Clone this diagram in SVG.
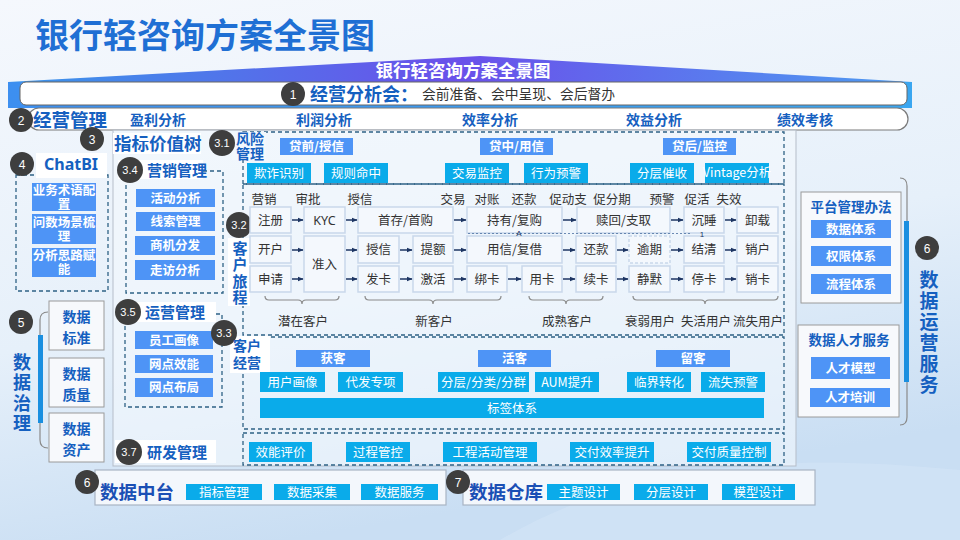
<svg xmlns="http://www.w3.org/2000/svg" width="960" height="540" viewBox="0 0 960 540" font-family="'Noto Sans CJK SC','Noto Sans',sans-serif">
<defs>
<linearGradient id="bg" x1="0" y1="0" x2="0.3" y2="1">
<stop offset="0" stop-color="#f5f8fd"/><stop offset="0.6" stop-color="#e6f0fa"/><stop offset="1" stop-color="#c9def3"/>
</linearGradient>
<linearGradient id="ban" x1="0" y1="0" x2="1" y2="0">
<stop offset="0" stop-color="#3a96ea"/><stop offset="0.5" stop-color="#6a50ea"/><stop offset="1" stop-color="#4d9cf1"/>
</linearGradient>
<linearGradient id="bar" x1="0" y1="0" x2="1" y2="0">
<stop offset="0" stop-color="#3d8ff0"/><stop offset="1" stop-color="#3aa6f0"/>
</linearGradient>
<marker id="ah" viewBox="0 0 6 6" refX="5.5" refY="3" markerWidth="6" markerHeight="6" markerUnits="userSpaceOnUse" orient="auto">
<path d="M0,0.5 L6,3 L0,5.5z" fill="#1d3563"/>
</marker>
<style>
.num{fill:#3e3e3e}
.nt{fill:#fff;font-size:12px;text-anchor:middle;font-family:'Liberation Sans','Noto Sans',sans-serif}
.nts{fill:#fff;font-size:11px;text-anchor:middle;font-family:'Liberation Sans','Noto Sans',sans-serif}
.hd{fill:#1560c0;font-weight:bold}
.vt{writing-mode:vertical-rl}
.blue{fill:#4e94f6}
.cyan{fill:#0aabea}
.wb{fill:#fff;font-weight:bold;font-size:12.5px;text-anchor:middle}
.wn{fill:#fff;font-size:12.5px;text-anchor:middle}
.cell{fill:#f4f8fd;stroke:#c9d7ea;stroke-width:1.5}
.ct{fill:#333;font-size:12.5px;text-anchor:middle}
.dash{fill:none;stroke:#2e6285;stroke-width:1.3;stroke-dasharray:4 3}
.lab{fill:#fff}
.gbox{fill:#f7f9fc;stroke:#9a9a9a;stroke-width:1}
.brk{fill:none;stroke:#8a8a8a;stroke-width:1.2}
.con{stroke:#1d3563;stroke-width:1.5;marker-end:url(#ah)}
.bt{fill:#1560c0;font-weight:bold;font-size:14px;text-anchor:middle}
</style>
</defs>
<rect width="960" height="540" fill="url(#bg)"/>
<path d="M500,540 C620,470 760,450 960,470 L960,540z" fill="#d3e5f6" opacity="0.6"/>

<!-- title -->
<text x="35" y="48" font-size="34" font-weight="bold" fill="#1f6fd4">银行轻咨询方案全景图</text>

<!-- banner -->
<g id="banner">
<polygon points="8,82 480,56 912,82" fill="url(#ban)"/>
<rect x="8" y="82" width="904" height="26" fill="url(#bar)"/>
<rect x="20" y="82" width="887" height="23" rx="6" fill="#fff" stroke="#666" stroke-width="1"/>
<text x="463" y="77" font-size="17.5" font-weight="bold" fill="#fff" text-anchor="middle">银行轻咨询方案全景图</text>
</g>

<g id="n1">
<circle class="num" cx="293" cy="94" r="12"/><text class="nt" x="293" y="98.5">1</text>
<text x="310" y="100.5" font-size="18" class="hd">经营分析会：</text>
<text x="422" y="99" font-size="13.8" fill="#333">会前准备、会中呈现、会后督办</text>
</g>

<g id="n2">
<rect x="28" y="108" width="880" height="22" rx="11" fill="#fff" stroke="#7a7a7a" stroke-width="1.2"/>
<circle class="num" cx="21" cy="120" r="12"/><text class="nt" x="21" y="124.5">2</text>
<text x="33" y="127" font-size="18.5" class="hd">经营管理</text>
<text x="158" y="125" class="bt">盈利分析</text>
<text x="324" y="125" class="bt">利润分析</text>
<text x="490" y="125" class="bt">效率分析</text>
<text x="654" y="125" class="bt">效益分析</text>
<text x="805" y="125" class="bt">绩效考核</text>
</g>

<!-- big frame 3 -->
<g id="n3">
<rect x="113" y="130" width="683" height="336" fill="#f3f8fd" fill-opacity="0.6" stroke="#b5bdc9" stroke-width="1"/>
<rect class="lab" x="113" y="133" width="88" height="21"/>
<circle class="num" cx="92" cy="139" r="12"/><text class="nt" x="92" y="143.5">3</text>
<text x="114" y="150" font-size="17.5" class="hd">指标价值树</text>
</g>

<!-- ChatBI -->
<g id="n4">
<rect class="dash" x="16" y="175" width="92" height="116"/>
<rect class="lab" x="36" y="153" width="71" height="25"/>
<circle class="num" cx="22" cy="164" r="12"/><text class="nt" x="22" y="168.5">4</text>
<text x="71" y="170" font-size="16" class="hd" text-anchor="middle" font-family="'Noto Sans','Liberation Sans',sans-serif">ChatBI</text>
<rect class="blue" x="32" y="183" width="64" height="28"/>
<text class="wb" font-size="11.8" x="64" y="195">业务术语配<tspan x="64" dy="13.5">置</tspan></text>
<rect class="blue" x="32" y="214" width="64" height="30"/>
<text class="wb" font-size="11.8" x="64" y="226.5">问数场景梳<tspan x="64" dy="14">理</tspan></text>
<rect class="blue" x="32" y="248" width="64" height="29"/>
<text class="wb" font-size="11.8" x="64" y="260">分析思路赋<tspan x="64" dy="14">能</tspan></text>
</g>

<!-- 3.4 -->
<g id="n3-4">
<rect class="dash" x="126" y="171" width="97" height="122"/>
<rect class="lab" x="118" y="160" width="85" height="19"/>
<circle class="num" cx="130" cy="170" r="13"/><text class="nts" x="130" y="174">3.4</text>
<text x="147" y="175.5" font-size="15" class="hd">营销管理</text>
<rect class="blue" x="136" y="189" width="79" height="18"/><text class="wb" x="175.5" y="202.5">活动分析</text>
<rect class="blue" x="136" y="212" width="79" height="19"/><text class="wb" x="175.5" y="226">线索管理</text>
<rect class="blue" x="135" y="236" width="80" height="19"/><text class="wb" x="175" y="250">商机分发</text>
<rect class="blue" x="135" y="260" width="80" height="20"/><text class="wb" x="175" y="274.5">走访分析</text>
</g>

<!-- 3.5 -->
<g id="n3-5">
<rect class="dash" x="125" y="314" width="97" height="93"/>
<rect class="lab" x="118" y="302" width="98" height="20"/>
<circle class="num" cx="128" cy="312" r="13"/><text class="nts" x="128" y="316">3.5</text>
<text x="145" y="317.5" font-size="15" class="hd">运营管理</text>
<rect class="blue" x="135" y="331" width="78" height="18"/><text class="wb" x="174" y="344.5">员工画像</text>
<rect class="blue" x="135" y="355" width="78" height="18"/><text class="wb" x="174" y="368.5">网点效能</text>
<rect class="blue" x="135" y="378" width="78" height="19"/><text class="wb" x="174" y="392">网点布局</text>
</g>

<!-- 3.7 -->
<g id="n3-7">
<rect class="lab" x="115" y="440" width="101" height="23"/>
<circle class="num" cx="129" cy="452" r="13"/><text class="nts" x="129" y="456">3.7</text>
<text x="147" y="457.5" font-size="15" class="hd">研发管理</text>
</g>

<!-- 5 数据治理 -->
<g id="n5">
<path class="brk" d="M48,312 Q40,312 40,320 V440 Q40,448 48,448"/>
<rect x="38" y="335" width="5" height="88" fill="#1a8fe0"/>
<circle class="num" cx="21" cy="322" r="12"/><text class="nt" x="21" y="326.5">5</text>
<text class="hd vt" font-size="18" letter-spacing="2.5" x="22" y="353">数据治理</text>
<rect class="gbox" x="49" y="301" width="55" height="49"/>
<text class="bt" x="76.5" y="322">数据<tspan x="76.5" dy="21">标准</tspan></text>
<rect class="gbox" x="49" y="358" width="55" height="49"/>
<text class="bt" x="76.5" y="379">数据<tspan x="76.5" dy="21">质量</tspan></text>
<rect class="gbox" x="49" y="413" width="55" height="49"/>
<text class="bt" x="76.5" y="434">数据<tspan x="76.5" dy="21">资产</tspan></text>
</g>

<!-- 3.1 风险管理 -->
<g id="n3-1">
<rect class="dash" x="243" y="132" width="541" height="52"/>
<rect x="232" y="132" width="34" height="28" fill="#f3f8fd"/>
<circle class="num" cx="222" cy="143" r="13"/><text class="nts" x="222" y="147">3.1</text>
<text x="236" y="144" font-size="14" class="hd">风险<tspan x="236" dy="15">管理</tspan></text>
<rect class="blue" x="280" y="138" width="73" height="17"/><text class="wb" x="316.5" y="151">贷前/授信</text>
<rect class="blue" x="480" y="138" width="73" height="17"/><text class="wb" x="516.5" y="151">贷中/用信</text>
<rect class="blue" x="663" y="138" width="73" height="17"/><text class="wb" x="699.5" y="151">贷后/监控</text>
<rect class="cyan" x="247" y="163" width="64" height="20"/><text class="wn" x="279" y="177.5">欺诈识别</text>
<rect class="cyan" x="324" y="163" width="64" height="20"/><text class="wn" x="356" y="177.5">规则命中</text>
<rect class="cyan" x="445" y="163" width="64" height="20"/><text class="wn" x="477" y="177.5">交易监控</text>
<rect class="cyan" x="524" y="163" width="64" height="20"/><text class="wn" x="556" y="177.5">行为预警</text>
<rect class="cyan" x="630" y="163" width="64" height="20"/><text class="wn" x="662" y="177.5">分层催收</text>
<rect class="cyan" x="705" y="163" width="64" height="20"/><text class="wn" font-size="10.5" x="737" y="177">Vintage分析</text>
</g>

<!-- 3.2 客户旅程 -->
<g id="n3-2">
<rect class="dash" x="243" y="184" width="541" height="151"/>
<rect class="lab" x="228" y="238" width="22" height="68"/>
<circle class="num" cx="239" cy="225" r="13"/><text class="nts" x="239" y="229">3.2</text>
<text class="hd vt" font-size="15" letter-spacing="1.5" x="240" y="240.5">客户旅程</text>
<g class="ct">
<text x="264" y="203.5">营销</text><text x="308" y="203.5">审批</text><text x="360" y="203.5">授信</text>
<text x="453" y="203.5">交易</text><text x="487" y="203.5">对账</text><text x="524" y="203.5">还款</text>
<text x="568" y="203.5">促动支</text><text x="612" y="203.5">促分期</text><text x="662" y="203.5">预警</text>
<text x="697" y="203.5">促活</text><text x="729" y="203.5">失效</text>
</g>
</g>

<g id="journey-cells">
<g id="c-zhuce"><rect class="cell" x="250" y="207" width="41" height="26"/><text class="ct" x="270.5" y="224.5">注册</text></g>
<g id="c-kyc"><rect class="cell" x="304" y="207" width="41" height="26"/><text class="ct" x="324.5" y="224.5" font-family="'Noto Sans','Liberation Sans',sans-serif">KYC</text></g>
<g id="c-shoucun"><rect class="cell" x="358" y="207" width="95" height="26"/><text class="ct" x="405.5" y="224.5">首存/首购</text></g>
<g id="c-chiyou"><rect class="cell" x="467" y="207" width="95" height="26"/><text class="ct" x="514.5" y="224.5">持有/复购</text></g>
<g id="c-shuhui"><rect class="cell" x="577" y="207" width="93" height="26"/><text class="ct" x="623.5" y="224.5">赎回/支取</text></g>
<g id="c-chenshui"><rect class="cell" x="684" y="207" width="40" height="26"/><text class="ct" x="704" y="224.5">沉睡</text></g>
<g id="c-xiezai"><rect class="cell" x="737" y="207" width="41" height="26"/><text class="ct" x="757.5" y="224.5">卸载</text></g>

<g id="c-kaihu"><rect class="cell" x="250" y="236" width="41" height="27"/><text class="ct" x="270.5" y="254">开户</text></g>
<g id="c-zhunru"><rect class="cell" x="304" y="236" width="41" height="56"/><text class="ct" x="324.5" y="268.5">准入</text></g>
<g id="c-shouxin"><rect class="cell" x="358" y="236" width="41" height="27"/><text class="ct" x="378.5" y="254">授信</text></g>
<g id="c-tie"><rect class="cell" x="413" y="236" width="40" height="27"/><text class="ct" x="433" y="254">提额</text></g>
<g id="c-yongxin"><rect class="cell" x="467" y="236" width="95" height="27"/><text class="ct" x="514.5" y="254">用信/复借</text></g>
<g id="c-huankuan"><rect class="cell" x="576" y="236" width="40" height="27"/><text class="ct" x="596" y="254">还款</text></g>
<g id="c-yuqi"><rect x="629" y="236" width="41" height="27" fill="#f4f8fd" stroke="#c9d7ea" stroke-width="1.5" stroke-dasharray="3 2"/><text class="ct" x="649.5" y="254">逾期</text></g>
<g id="c-jieqing"><rect class="cell" x="684" y="236" width="40" height="27"/><text class="ct" x="704" y="254">结清</text></g>
<g id="c-xiaohu"><rect class="cell" x="737" y="236" width="41" height="27"/><text class="ct" x="757.5" y="254">销户</text></g>

<g id="c-shenqing"><rect class="cell" x="250" y="266" width="41" height="26"/><text class="ct" x="270.5" y="283.5">申请</text></g>
<g id="c-faka"><rect class="cell" x="358" y="266" width="41" height="26"/><text class="ct" x="378.5" y="283.5">发卡</text></g>
<g id="c-jihuo"><rect class="cell" x="413" y="266" width="40" height="26"/><text class="ct" x="433" y="283.5">激活</text></g>
<g id="c-bangka"><rect class="cell" x="467" y="266" width="40" height="26"/><text class="ct" x="487" y="283.5">绑卡</text></g>
<g id="c-yongka"><rect class="cell" x="522" y="266" width="40" height="26"/><text class="ct" x="542" y="283.5">用卡</text></g>
<g id="c-xuka"><rect class="cell" x="576" y="266" width="40" height="26"/><text class="ct" x="596" y="283.5">续卡</text></g>
<g id="c-jingmo"><rect class="cell" x="629" y="266" width="41" height="26"/><text class="ct" x="649.5" y="283.5">静默</text></g>
<g id="c-tingka"><rect class="cell" x="684" y="266" width="40" height="26"/><text class="ct" x="704" y="283.5">停卡</text></g>
<g id="c-xiaoka"><rect class="cell" x="737" y="266" width="41" height="26"/><text class="ct" x="757.5" y="283.5">销卡</text></g>

<path d="M468,233.5 H690" stroke="#4a6fa0" stroke-width="0.8" stroke-dasharray="2 2" fill="none"/>
<text x="519" y="236" font-size="8" fill="#1d3563" text-anchor="middle" font-family="'Liberation Sans',sans-serif">A</text>
<text x="702" y="237" font-size="8" fill="#1d3563" text-anchor="middle" font-family="'Liberation Sans',sans-serif">1</text>

<path class="brk" d="M265,296 q0,4 4,4 H298 q4,0 4,4 q0,-4 4,-4 H335 q4,0 4,-4"/>
<path class="brk" d="M365,296 q0,4 4,4 H429 q4,0 4,4 q0,-4 4,-4 H497 q4,0 4,-4"/>
<path class="brk" d="M529,296 q0,4 4,4 H562 q4,0 4,4 q0,-4 4,-4 H599 q4,0 4,-4"/>
<path class="brk" d="M633,296 q0,4 4,4 H701 q4,0 4,4 q0,-4 4,-4 H774 q4,0 4,-4"/>
<g class="ct" font-size="12">
<text x="303" y="325.5">潜在客户</text><text x="434" y="325.5">新客户</text><text x="567" y="325.5">成熟客户</text>
<text x="650" y="325.5">衰弱用户</text><text x="706" y="325.5">失活用户</text><text x="758" y="325.5">流失用户</text>
</g>
</g>

<g id="connectors">
<line class="con" x1="292" y1="220" x2="303" y2="220"/>
<line class="con" x1="346" y1="220" x2="357" y2="220"/>
<line class="con" x1="454" y1="220" x2="466" y2="220"/>
<line class="con" x1="563" y1="220" x2="576" y2="220"/>
<line class="con" x1="671" y1="220" x2="683" y2="220"/>
<line class="con" x1="725" y1="220" x2="736" y2="220"/>
<line class="con" x1="292" y1="250" x2="303" y2="250"/>
<line class="con" x1="346" y1="250" x2="357" y2="250"/>
<line class="con" x1="400" y1="250" x2="412" y2="250"/>
<line class="con" x1="454" y1="250" x2="466" y2="250"/>
<line class="con" x1="563" y1="250" x2="575" y2="250"/>
<line class="con" x1="617" y1="250" x2="628" y2="250"/>
<line class="con" x1="671" y1="250" x2="683" y2="250"/>
<line class="con" x1="725" y1="250" x2="736" y2="250"/>
<line class="con" x1="292" y1="279" x2="303" y2="279"/>
<line class="con" x1="346" y1="279" x2="357" y2="279"/>
<line class="con" x1="400" y1="279" x2="412" y2="279"/>
<line class="con" x1="454" y1="279" x2="466" y2="279"/>
<line class="con" x1="508" y1="279" x2="521" y2="279"/>
<line class="con" x1="563" y1="279" x2="575" y2="279"/>
<line class="con" x1="617" y1="279" x2="628" y2="279"/>
<line class="con" x1="671" y1="279" x2="683" y2="279"/>
<line class="con" x1="725" y1="279" x2="736" y2="279"/>
</g>

<!-- 3.3 客户经营 -->
<g id="n3-3">
<rect class="dash" x="243" y="337" width="541" height="92"/>
<rect class="lab" x="230" y="336" width="40" height="37"/>
<circle class="num" cx="224" cy="333" r="13"/><text class="nts" x="224" y="337">3.3</text>
<text x="233" y="351" font-size="14" class="hd">客户<tspan x="233" dy="17">经营</tspan></text>
<rect class="blue" x="296" y="350" width="74" height="17"/><text class="wb" x="333" y="363">获客</text>
<rect class="blue" x="478" y="350" width="73" height="17"/><text class="wb" x="514.5" y="363">活客</text>
<rect class="blue" x="656" y="350" width="74" height="17"/><text class="wb" x="693" y="363">留客</text>
<rect class="cyan" x="260" y="372" width="65" height="20"/><text class="wn" x="292.5" y="386.5">用户画像</text>
<rect class="cyan" x="338" y="372" width="65" height="20"/><text class="wn" x="370.5" y="386.5">代发专项</text>
<rect class="cyan" x="438" y="372" width="91" height="20"/><text class="wn" x="483.5" y="386.5">分层/分类/分群</text>
<rect class="cyan" x="535" y="372" width="64" height="20"/><text class="wn" x="567" y="386.5">AUM提升</text>
<rect class="cyan" x="627" y="372" width="64" height="20"/><text class="wn" x="659" y="386.5">临界转化</text>
<rect class="cyan" x="701" y="372" width="64" height="20"/><text class="wn" x="733" y="386.5">流失预警</text>
<rect class="cyan" x="260" y="398" width="504" height="20"/><text class="wn" x="512" y="412.5">标签体系</text>
</g>

<!-- 3.7 items -->
<g id="n3-7-items">
<rect class="dash" x="243" y="433" width="541" height="32"/>
<rect class="cyan" x="249" y="442" width="63" height="20"/><text class="wn" x="280.5" y="456.5">效能评价</text>
<rect class="cyan" x="346" y="442" width="64" height="20"/><text class="wn" x="378" y="456.5">过程管控</text>
<rect class="cyan" x="443" y="442" width="94" height="20"/><text class="wn" x="490" y="456.5">工程活动管理</text>
<rect class="cyan" x="570" y="442" width="84" height="20"/><text class="wn" x="612" y="456.5">交付效率提升</text>
<rect class="cyan" x="687" y="442" width="84" height="20"/><text class="wn" x="729" y="456.5">交付质量控制</text>
</g>

<!-- 6 数据运营服务 -->
<g id="n6-ops">
<path class="brk" d="M900,178 Q907,178 907,186 V417 Q907,425 900,425"/>
<rect x="904" y="221" width="5" height="161" fill="#1a8fe0"/>
<circle class="num" cx="927" cy="248" r="12"/><text class="nt" x="927" y="252.5">6</text>
<text class="hd vt" font-size="19" letter-spacing="2" x="929" y="270.5">数据运营服务</text>
</g>
<g id="n-platform">
<rect class="gbox" x="801" y="192" width="100" height="111"/>
<text x="851" y="212" font-size="13.5" class="hd" text-anchor="middle">平台管理办法</text>
<rect class="blue" x="811" y="220" width="80" height="18"/><text class="wb" x="851" y="233.5">数据体系</text>
<rect class="blue" x="811" y="246" width="80" height="20"/><text class="wb" x="851" y="260.5">权限体系</text>
<rect class="blue" x="811" y="274" width="80" height="20"/><text class="wb" x="851" y="288.5">流程体系</text>
</g>
<g id="n-talent">
<rect class="gbox" x="798" y="325" width="101" height="92"/>
<text x="849" y="345" font-size="13.5" class="hd" text-anchor="middle">数据人才服务</text>
<rect class="blue" x="811" y="357" width="79" height="22"/><text class="wb" x="850.5" y="372.5">人才模型</text>
<rect class="blue" x="810" y="388" width="80" height="19"/><text class="wb" x="850" y="402">人才培训</text>
</g>

<!-- bottom -->
<g id="n6-mid">
<rect x="95" y="470" width="351" height="35" fill="#f3f7fc" stroke="#a9b4c4" stroke-width="1.2"/>
<circle class="num" cx="87" cy="482" r="12"/><text class="nt" x="87" y="486.5">6</text>
<text x="100" y="499" font-size="18.5" font-weight="bold" fill="#1a4fb5">数据中台</text>
<rect class="cyan" x="186" y="484" width="76" height="16"/><text class="wn" font-size="12" x="224" y="496.5">指标管理</text>
<rect class="cyan" x="274" y="484" width="76" height="16"/><text class="wn" font-size="12" x="312" y="496.5">数据采集</text>
<rect class="cyan" x="361" y="484" width="77" height="16"/><text class="wn" font-size="12" x="399.5" y="496.5">数据服务</text>
</g>
<g id="n7">
<rect x="463" y="470" width="352" height="35" fill="#f3f7fc" stroke="#a9b4c4" stroke-width="1.2"/>
<circle class="num" cx="458" cy="482" r="12"/><text class="nt" x="458" y="486.5">7</text>
<text x="469" y="499" font-size="18.5" font-weight="bold" fill="#1a4fb5">数据仓库</text>
<rect class="cyan" x="547" y="484" width="73" height="16"/><text class="wn" font-size="12" x="583.5" y="496.5">主题设计</text>
<rect class="cyan" x="634" y="484" width="74" height="16"/><text class="wn" font-size="12" x="671" y="496.5">分层设计</text>
<rect class="cyan" x="722" y="484" width="73" height="16"/><text class="wn" font-size="12" x="758.5" y="496.5">模型设计</text>
</g>
</svg>
